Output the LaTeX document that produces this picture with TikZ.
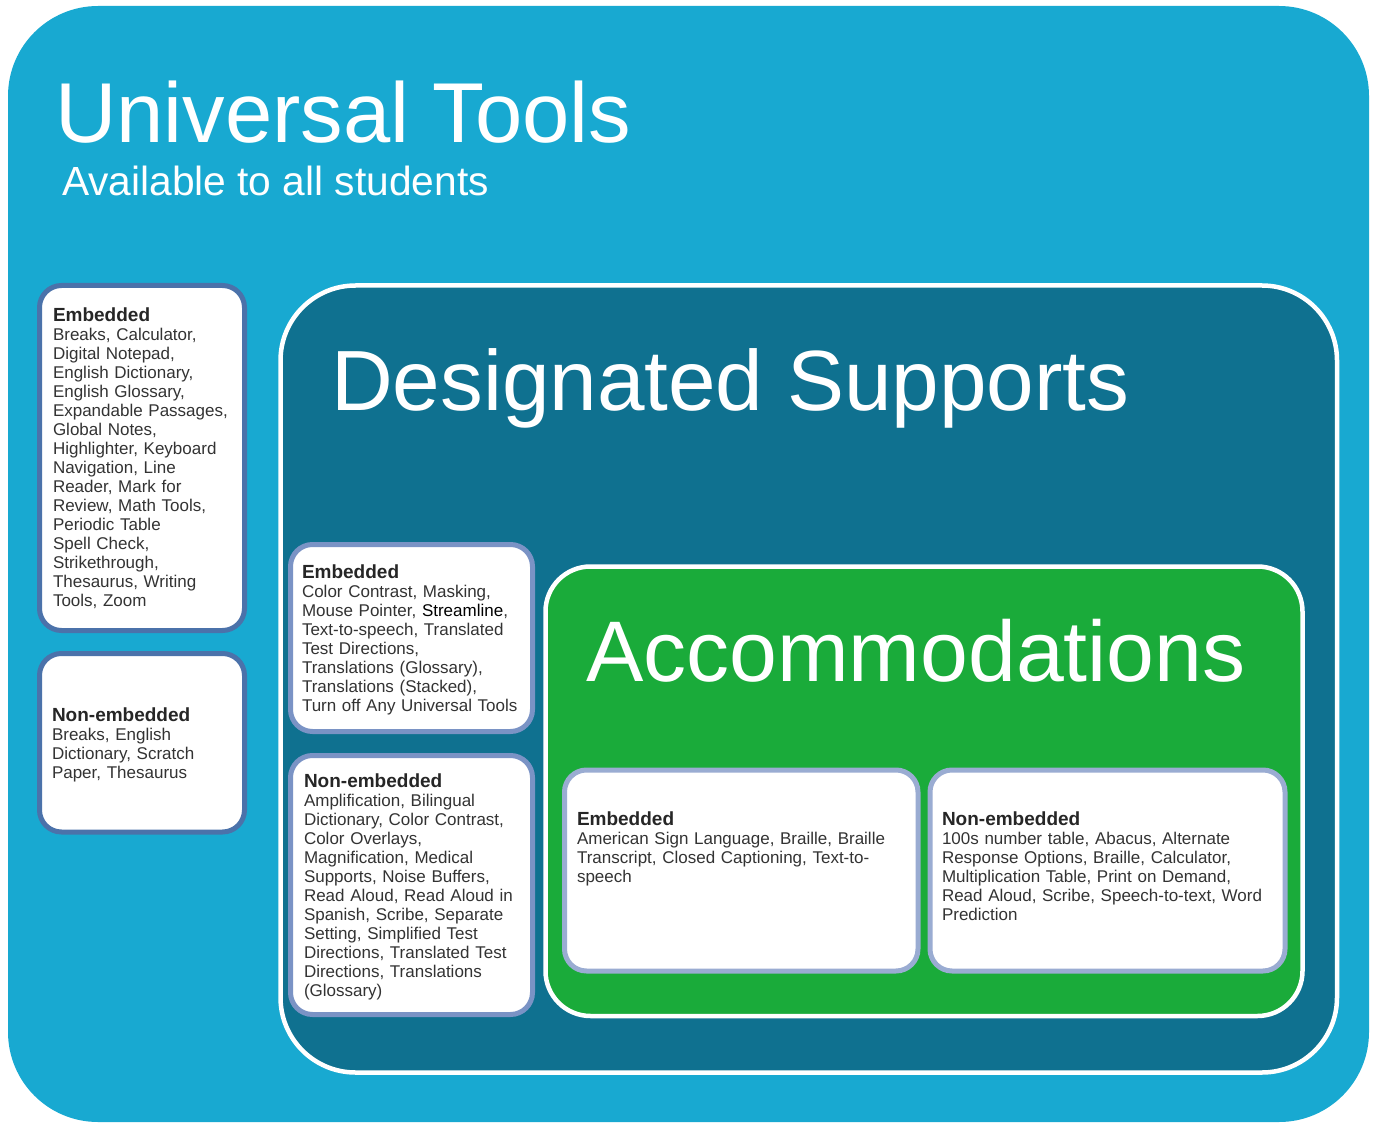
\documentclass[tikz,border=0pt]{standalone}
\usepackage{fontspec}
\setmainfont{Liberation Sans}
\definecolor{utblue}{HTML}{18A9D1}
\definecolor{dsteal}{HTML}{0F7190}
\definecolor{accgreen}{HTML}{1AAB3A}
\definecolor{utborder}{HTML}{4B72AA}
\definecolor{dsborder}{HTML}{7A93C5}
\definecolor{accborder}{HTML}{9AACD2}
\definecolor{txt}{HTML}{333333}
\tikzset{
  listbox/.style={draw=#1, line width=5pt, fill=white, rounded corners=22pt,
    shape=rectangle, inner sep=0pt, outer sep=0pt, anchor=north west},
  listtext/.style={anchor=base west, inner sep=0pt, outer sep=0pt, text width=260pt, align=left,
    text=txt, font=\fontsize{17}{19}\selectfont},
  title/.style={anchor=base west, inner sep=0pt, outer sep=0pt, text=white},
}
\newcommand{\hd}[1]{{\bfseries\fontsize{19}{19}\selectfont\color{black!85}#1}}
\begin{document}
\begin{tikzpicture}[x=1pt,y=-1pt]
\useasboundingbox (0,0) rectangle (1379,1123);
% containers
\fill[utblue, rounded corners=90pt] (8,6) rectangle (1369,1122);
\draw[white, line width=4.5pt, fill=dsteal, rounded corners=75pt] (280.5,285.5) rectangle (1337,1072.5);
\draw[white, line width=4.5pt, fill=accgreen, rounded corners=45pt] (545.5,566.5) rectangle (1302.5,1016);
% titles
\node[title, font=\fontsize{85}{85}\selectfont] (uttitle) at (55,143) {Universal Tools};
\node[title, font=\fontsize{40.7}{41}\selectfont] (utsub) at (62,196) {Available to all students};
\node[title, font=\fontsize{85.5}{86}\selectfont] (dstitle) at (331,410) {Designated Supports};
\node[title, font=\fontsize{86}{86}\selectfont] (acctitle) at (586,681) {Accommodations};
% boxes
\node[listbox=utborder, minimum width=205pt, minimum height=345pt] (utemb) at (39.5,285.5) {};
\node[listbox=utborder, minimum width=205pt, minimum height=178.5pt] (utnon) at (39.5,653.5) {};
\node[listbox=dsborder, minimum width=242pt, minimum height=187pt] (dsemb) at (290.5,544.5) {};
\node[listbox=dsborder, minimum width=242pt, minimum height=259pt] (dsnon) at (290.5,755.5) {};
\node[listbox=accborder, minimum width=353.5pt, minimum height=201pt] (accemb) at (564.5,770) {};
\node[listbox=accborder, minimum width=355pt, minimum height=201pt] (accnon) at (930,770) {};
% texts
\node[listtext] (utembt) at (53,322) {\hd{Embedded}\\
Breaks, Calculator,\\
Digital Notepad,\\
English Dictionary,\\
English Glossary,\\
Expandable Passages,\\
Global Notes,\\
Highlighter, Keyboard\\
Navigation, Line\\
Reader, Mark for\\
Review, Math Tools,\\
Periodic Table\\
Spell Check,\\
Strikethrough,\\
Thesaurus, Writing\\
Tools, Zoom};
\node[listtext] (utnont) at (52,721) {\hd{Non-embedded}\\
Breaks, English\\
Dictionary, Scratch\\
Paper, Thesaurus};
\node[listtext] (dsembt) at (302,578) {\hd{Embedded}\\
Color Contrast, Masking,\\
Mouse Pointer, {\color{black}Streamline},\\
Text-to-speech, Translated\\
Test Directions,\\
Translations (Glossary),\\
Translations (Stacked),\\
Turn off Any Universal Tools};
\node[listtext] (dsnont) at (304,787) {\hd{Non-embedded}\\
Amplification, Bilingual\\
Dictionary, Color Contrast,\\
Color Overlays,\\
Magnification, Medical\\
Supports, Noise Buffers,\\
Read Aloud, Read Aloud in\\
Spanish, Scribe, Separate\\
Setting, Simplified Test\\
Directions, Translated Test\\
Directions, Translations\\
(Glossary)};
\node[listtext, text width=340pt] (accembt) at (577,825) {\hd{Embedded}\\
American Sign Language, Braille, Braille\\
Transcript, Closed Captioning, Text-to-\\
speech};
\node[listtext, text width=340pt] (accnont) at (942,825) {\hd{Non-embedded}\\
100s number table, Abacus, Alternate\\
Response Options, Braille, Calculator,\\
Multiplication Table, Print on Demand,\\
Read Aloud, Scribe, Speech-to-text, Word\\
Prediction};
\end{tikzpicture}
\end{document}
